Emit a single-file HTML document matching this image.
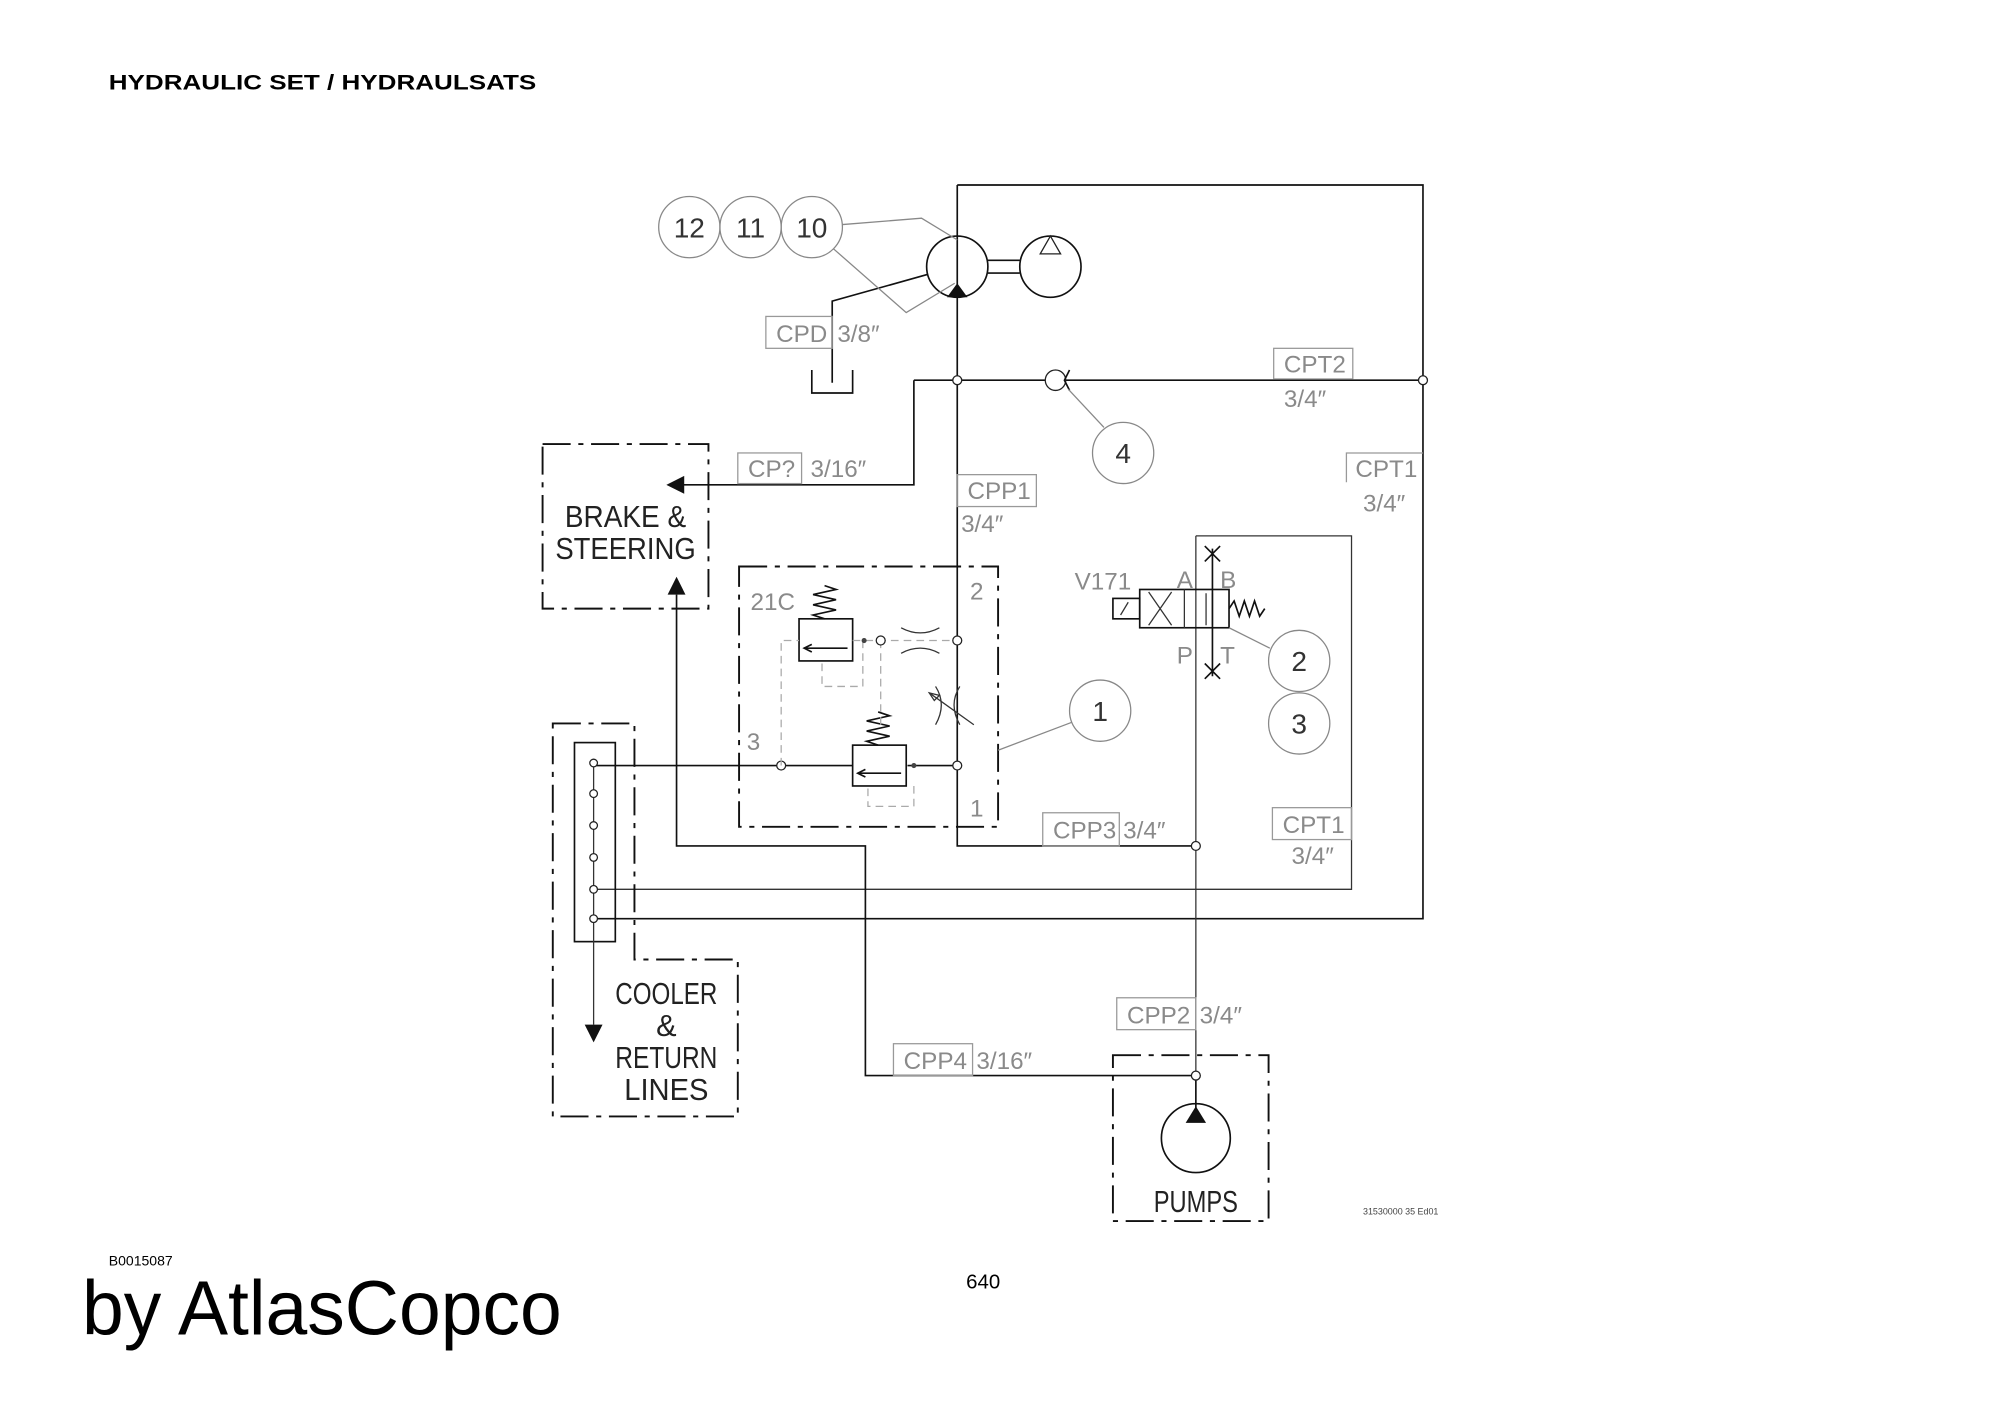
<!DOCTYPE html>
<html><head><meta charset="utf-8"><style>
html,body{margin:0;padding:0;background:#fff;}
svg{display:block;}
text{font-family:"Liberation Sans",sans-serif;}
.g{fill:#8a8a8a;font-size:19px;}
.gb{fill:none;stroke:#999;stroke-width:1;}
.k{fill:none;stroke:#111;stroke-width:1.3;}
.kt{fill:none;stroke:#333;stroke-width:1;}
.dd{fill:none;stroke:#111;stroke-width:1.5;stroke-dasharray:22,6,4,6;}
.gd{fill:none;stroke:#aaa;stroke-width:1;stroke-dasharray:6,4;}
.bal{fill:none;stroke:#888;stroke-width:1;}
.bt{fill:#333;font-size:22px;text-anchor:middle;}
.dot{fill:#fff;stroke:#222;stroke-width:1;}
</style></head><body>
<svg width="2000" height="1415" viewBox="0 0 1567 1109" xmlns="http://www.w3.org/2000/svg">
<text x="85" y="70" font-size="17" font-weight="bold" textLength="335" lengthAdjust="spacingAndGlyphs">HYDRAULIC SET / HYDRAULSATS</text>

<!-- big box -->
<path class="k" d="M750 145 H1115 V720 H465"/>
<path class="k" d="M750 145 V663 H937"/>
<!-- inner box -->
<path class="kt" d="M937 420 H1059 V697 H465"/>
<path class="kt" d="M937 420 V843"/>
<path class="k" d="M937 843 V870"/>

<!-- motor -->
<circle class="k" cx="750" cy="209" r="24"/>
<circle class="k" cx="823" cy="209" r="24"/>
<path class="k" d="M774 204 H799 M774 214 H799"/>
<polygon points="823,185 815,199 831,199" fill="#fff" stroke="#222"/>
<polygon points="750,222 742,233 758,233" fill="#111"/>
<!-- drain -->
<path class="k" d="M727 215 L652 236 V300"/>
<path class="k" d="M636 290 V308 H668 V290"/>
<rect class="gb" x="600" y="248" width="52" height="25"/>
<text class="g" x="608" y="268">CPD</text><text class="g" x="656" y="268">3/8″</text>
<!-- balloons -->
<circle class="bal" cx="540" cy="178" r="24"/><text class="bt" x="540" y="186">12</text>
<circle class="bal" cx="588" cy="178" r="24"/><text class="bt" x="588" y="186">11</text>
<circle class="bal" cx="636" cy="178" r="24"/><text class="bt" x="636" y="186">10</text>
<path class="bal" d="M660 176 L722 171 L750 188 M653 195 L710 245 L748 222"/>

<!-- pressure line -->
<path class="k" d="M716 298 H1115"/>
<path class="k" d="M716 298 V380 H535"/>
<polygon points="522,380 536,373 536,387" fill="#111"/>
<circle class="dot" cx="750" cy="298" r="3.5"/><circle class="dot" cx="1115" cy="298" r="3.5"/>
<circle cx="827" cy="298" r="8" fill="#fff" stroke="#222"/>
<path class="k" d="M838 290 L834 298 L838 306"/>
<rect class="gb" x="998" y="273" width="62" height="24"/><text class="g" x="1006" y="292">CPT2</text>
<text class="g" x="1006" y="319">3/4″</text>
<circle class="bal" cx="880" cy="355" r="24"/><text class="bt" x="880" y="363">4</text>
<path class="bal" d="M837 305 L865 335"/>
<rect class="gb" x="578" y="355" width="50" height="24"/><text class="g" x="586" y="374">CP?</text><text class="g" x="635" y="374">3/16″</text>
<rect class="gb" x="750" y="372" width="62" height="25"/><text class="g" x="758" y="391">CPP1</text>
<text class="g" x="753" y="417">3/4″</text>
<path class="gb" d="M1055 378 V355 H1115"/><text class="g" x="1062" y="374">CPT1</text>
<text class="g" x="1068" y="401">3/4″</text>

<!-- brake -->
<rect class="dd" x="425" y="348" width="130" height="129"/>
<text x="490" y="413" font-size="24" text-anchor="middle" fill="#222" textLength="95" lengthAdjust="spacingAndGlyphs">BRAKE &amp;</text>
<text x="490" y="438" font-size="24" text-anchor="middle" fill="#222" textLength="110" lengthAdjust="spacingAndGlyphs">STEERING</text>
<polygon points="530,452 523,466 537,466" fill="#111"/>
<path class="k" d="M530 466 V663 H678 V843 H937"/>

<!-- 21C block -->
<rect class="dd" x="579" y="444" width="203" height="204"/>
<text class="g" x="588" y="478">21C</text><text class="g" x="760" y="470">2</text>
<text class="g" x="585" y="588">3</text><text class="g" x="760" y="640">1</text>
<path class="k" d="M465 600 H668 M711 600 H750"/>
<circle class="dot" cx="612" cy="600" r="3.5"/><circle class="dot" cx="750" cy="600" r="3.5"/>
<circle cx="716" cy="600" r="2" fill="#444"/>
<rect class="k" x="668" y="584" width="42" height="32"/>
<path class="k" d="M706 606 H672"/><path class="k" d="M678 603 L672 606 L678 609"/>
<path class="k" d="M688 584 l-9 -3 l18 -4 l-18 -4 l18 -4 l-18 -4 l18 -4 l-9 -3"/>
<rect class="k" x="626" y="485" width="42" height="33"/>
<path class="k" d="M664 508 H630"/><path class="k" d="M636 505 L630 508 L636 511"/>
<path class="k" d="M646 485 l-9 -3 l18 -4 l-18 -4 l18 -4 l-18 -4 l18 -4 l-9 -3"/>
<path class="gd" d="M612 600 V502 H626 M668 502 H750 M690 502 V568 M676 502 V538 H644 V518 M716 616 V632 H680 V616"/>
<circle cx="677" cy="502" r="2" fill="#444"/><circle class="dot" cx="690" cy="502" r="3.5"/><circle class="dot" cx="750" cy="502" r="3.5"/>
<path class="kt" d="M706 492 Q721 500 736 492 M706 512 Q721 504 736 512"/>
<path class="kt" d="M733 538 Q742 552 733 568 M752 538 Q743 552 752 568 M728 543 L763 568"/>
<path class="kt" d="M728 543 L736 545 L732 549 Z"/>
<circle class="bal" cx="862" cy="557" r="24"/><text class="bt" x="862" y="565">1</text>
<path class="bal" d="M782 588 L840 566"/>

<!-- solenoid valve -->
<text class="g" x="842" y="462">V171</text>
<text class="g" x="922" y="461" font-size="15">A</text><text class="g" x="956" y="461" font-size="15">B</text>
<text class="g" x="922" y="520" font-size="15">P</text><text class="g" x="956" y="520" font-size="15">T</text>
<rect class="k" x="893" y="462" width="70" height="30"/>
<path class="kt" d="M928 462 V492"/>
<rect class="k" x="872" y="469" width="21" height="16"/>
<path class="kt" d="M878 482 L884 472"/>
<path class="kt" d="M900 464 L918 490 M918 464 L900 490 M945 465 V490 M950 465 V490"/>
<path class="k" d="M963 477 l4 -6 l4 12 l4 -12 l4 12 l4 -12 l4 12 l4 -6"/>
<path class="k" d="M950 430 V530 M944 428 L956 440 M956 428 L944 440 M944 520 L956 532 M956 520 L944 532"/>
<path class="bal" d="M963 492 L995 508"/>
<circle class="bal" cx="1018" cy="518" r="24"/><text class="bt" x="1018" y="526">2</text>
<circle class="bal" cx="1018" cy="567" r="24"/><text class="bt" x="1018" y="575">3</text>

<rect class="gb" x="817" y="637" width="60" height="26"/><text class="g" x="825" y="657">CPP3</text><text class="g" x="880" y="657">3/4″</text>
<circle class="dot" cx="937" cy="663" r="3.5"/>
<rect class="gb" x="997" y="633" width="62" height="25"/><text class="g" x="1005" y="653">CPT1</text>
<text class="g" x="1012" y="677">3/4″</text>

<!-- cooler -->
<path class="dd" d="M433 567 H497 V752 H578 V875 H433 Z"/>
<rect class="k" x="450" y="582" width="32" height="156"/>
<path class="kt" d="M465 600 V803"/>
<polygon points="465,817 458,803 472,803" fill="#111"/>
<circle class="dot" cx="465" cy="598" r="3"/><circle class="dot" cx="465" cy="622" r="3"/><circle class="dot" cx="465" cy="647" r="3"/>
<circle class="dot" cx="465" cy="672" r="3"/><circle class="dot" cx="465" cy="697" r="3"/><circle class="dot" cx="465" cy="720" r="3"/>
<g font-size="24" fill="#222" text-anchor="middle">
<text x="522" y="787" textLength="80" lengthAdjust="spacingAndGlyphs">COOLER</text>
<text x="522" y="812">&amp;</text>
<text x="522" y="837" textLength="80" lengthAdjust="spacingAndGlyphs">RETURN</text>
<text x="522" y="862" textLength="66" lengthAdjust="spacingAndGlyphs">LINES</text>
</g>

<rect class="gb" x="875" y="782" width="62" height="25"/><text class="g" x="883" y="802">CPP2</text><text class="g" x="940" y="802">3/4″</text>
<rect class="gb" x="700" y="818" width="62" height="25"/><text class="g" x="708" y="838">CPP4</text><text class="g" x="765" y="838">3/16″</text>
<circle class="dot" cx="937" cy="843" r="3.5"/>

<!-- pumps -->
<rect class="dd" x="872" y="827" width="122" height="130"/>
<circle class="k" cx="937" cy="892" r="27"/>
<polygon points="937,867 929,880 945,880" fill="#111"/>
<text x="937" y="950" font-size="24" fill="#222" text-anchor="middle" textLength="66" lengthAdjust="spacingAndGlyphs">PUMPS</text>
<text x="1068" y="952" font-size="7" fill="#444">31530000 35 Ed01</text>

<text x="85" y="992" font-size="11">B0015087</text>
<text x="757" y="1010" font-size="16">640</text>
<text x="64" y="1046" font-size="60" textLength="376" lengthAdjust="spacingAndGlyphs">by AtlasCopco</text>
</svg>
</body></html>
